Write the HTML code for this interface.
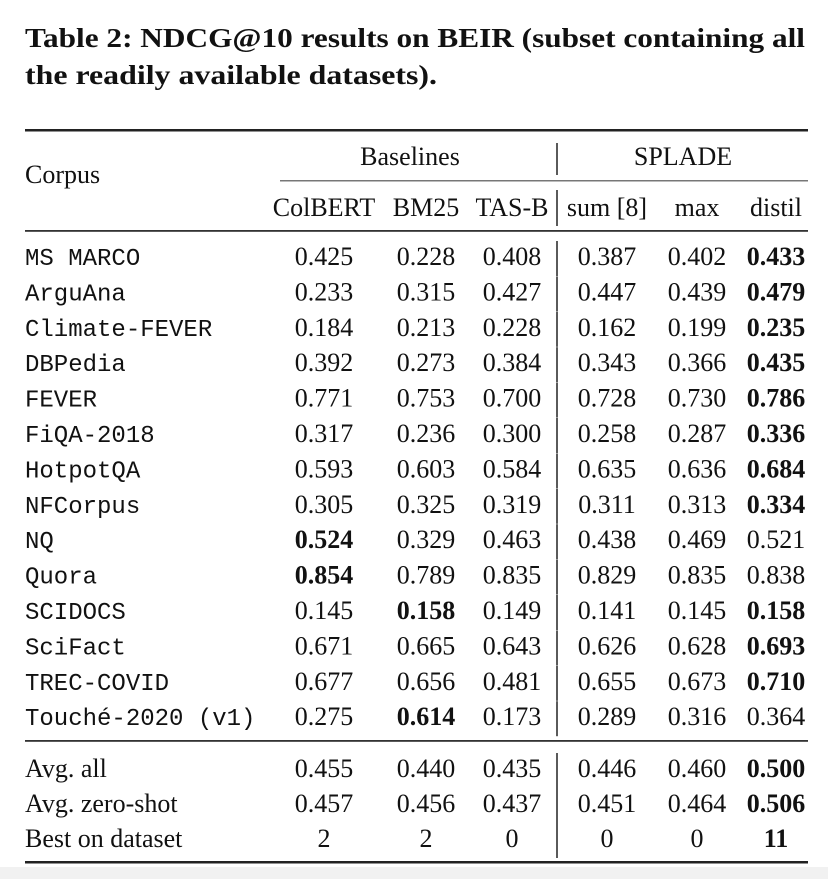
<!DOCTYPE html>
<html><head><meta charset="utf-8">
<style>
html,body{margin:0;padding:0;background:#fff;width:828px;height:879px;overflow:hidden}
svg{display:block}
.serif{font-family:"Liberation Serif",serif;fill:#111}
.mono{font-family:"Liberation Mono",monospace;fill:#111}
</style></head>
<body>
<svg id="tbl" width="828" height="879">
<rect x="0" y="867" width="828" height="12" fill="#f1f1f1"/>
<text class="serif" x="25" y="47" font-size="27" font-weight="bold" textLength="780" lengthAdjust="spacingAndGlyphs">Table 2: NDCG@10 results on BEIR (subset containing all</text>
<text class="serif" x="25" y="84" font-size="27" font-weight="bold" textLength="412" lengthAdjust="spacingAndGlyphs">the readily available datasets).</text>
<rect x="25" y="129" width="783" height="2.5" fill="#222"/>
<rect x="280" y="180" width="528" height="1.5" fill="#777"/>
<rect x="25" y="230" width="783" height="1.8" fill="#333"/>
<rect x="25" y="740" width="783" height="1.8" fill="#333"/>
<rect x="25" y="861" width="783" height="2.5" fill="#222"/>
<line x1="557" y1="143" x2="557" y2="175" stroke="#222" stroke-width="1.5"/>
<line x1="557" y1="190" x2="557" y2="226" stroke="#222" stroke-width="1.5"/>
<text class="serif" x="25" y="183" font-size="26">Corpus</text>
<text class="serif" x="410" y="165" font-size="26" text-anchor="middle">Baselines</text>
<text class="serif" x="683" y="165" font-size="26" text-anchor="middle">SPLADE</text>
<g id="body"></g>
</svg>
<script>
const columns = ["ColBERT","BM25","TAS-B","sum [8]","max","distil"];
const corpora = ["MS MARCO","ArguAna","Climate-FEVER","DBPedia","FEVER","FiQA-2018","HotpotQA","NFCorpus","NQ","Quora","SCIDOCS","SciFact","TREC-COVID","Touché-2020 (v1)"];
const colbert = ["0.425","0.233","0.184","0.392","0.771","0.317","0.593","0.305","0.524","0.854","0.145","0.671","0.677","0.275"];
const bm25 = ["0.228","0.315","0.213","0.273","0.753","0.236","0.603","0.325","0.329","0.789","0.158","0.665","0.656","0.614"];
const tasb = ["0.408","0.427","0.228","0.384","0.700","0.300","0.584","0.319","0.463","0.835","0.149","0.643","0.481","0.173"];
const spladeSum = ["0.387","0.447","0.162","0.343","0.728","0.258","0.635","0.311","0.438","0.829","0.141","0.626","0.655","0.289"];
const spladeMax = ["0.402","0.439","0.199","0.366","0.730","0.287","0.636","0.313","0.469","0.835","0.145","0.628","0.673","0.316"];
const spladeDistil = ["0.433","0.479","0.235","0.435","0.786","0.336","0.684","0.334","0.521","0.838","0.158","0.693","0.710","0.364"];
const boldCells = [[0,5],[1,5],[2,5],[3,5],[4,5],[5,5],[6,5],[7,5],[8,0],[9,0],[10,1],[10,5],[11,5],[12,5],[13,1]];
const summaryLabels = ["Avg. all","Avg. zero-shot","Best on dataset"];
const summaryValues = [["0.455","0.440","0.435","0.446","0.460","0.500"],["0.457","0.456","0.437","0.451","0.464","0.506"],["2","2","0","0","0","11"]];

const NS="http://www.w3.org/2000/svg";
const colX=[324,426,512,607,697,776];
const svg=document.getElementById('tbl');
const g=document.getElementById('body');
function txt(x,y,s,cls,anchor,bold){
  const t=document.createElementNS(NS,'text');
  t.setAttribute('x',x);t.setAttribute('y',y);
  t.setAttribute('class',cls);t.setAttribute('font-size',cls==='mono'?24:26);
  if(anchor)t.setAttribute('text-anchor',anchor);
  if(bold)t.setAttribute('font-weight','bold');
  t.textContent=s;g.appendChild(t);return t;
}
function vline(y1,y2){
  const l=document.createElementNS(NS,'line');
  l.setAttribute('x1',557);l.setAttribute('x2',557);l.setAttribute('y1',y1);l.setAttribute('y2',y2);
  l.setAttribute('stroke','#222');l.setAttribute('stroke-width','1.5');
  
  
  g.appendChild(l);
}
columns.forEach((c,i)=>{
  const t=txt(colX[i],216,c,'serif','middle',false);
  
  
});
const series=[colbert,bm25,tasb,spladeSum,spladeMax,spladeDistil];
corpora.forEach((name,r)=>{
  const y=265+r*35.4;
  const n=txt(25,y,name,'mono',null,false);
  
  
  series.forEach((s,c)=>{
    const b=boldCells.some(p=>p[0]===r&&p[1]===c);
    const t=txt(colX[c],y,s[r],'serif','middle',b);
    
    
  });
  vline(y-24,y+11);
});
summaryLabels.forEach((lab,r)=>{
  const y=777+r*35;
  const n=txt(25,y,lab,'serif',null,false);
  
  
  summaryValues[r].forEach((v,c)=>{
    const t=txt(colX[c],y,v,'serif','middle',c===5);
    
    
  });
  vline(y-24,y+11);
});
</script>
</body></html>
